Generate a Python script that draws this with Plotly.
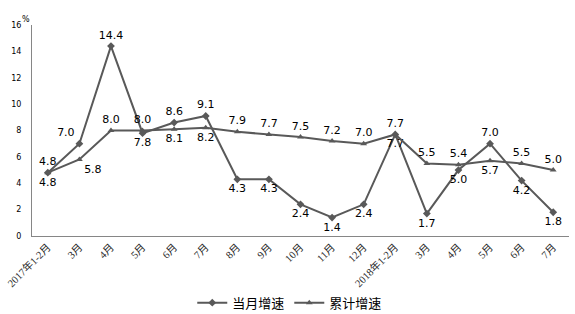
import plotly.graph_objects as go

# Month labels along the x axis
months = ["2017年1-2月", "3月", "4月", "5月", "6月", "7月", "8月", "9月", "10月",
          "11月", "12月", "2018年1-2月", "3月", "4月", "5月", "6月", "7月"]

# Growth rates (%)
monthly = [4.8, 7.0, 14.4, 7.8, 8.6, 9.1, 4.3, 4.3, 2.4, 1.4, 2.4, 7.7, 1.7, 5.0, 7.0, 4.2, 1.8]
cumulative = [4.8, 5.8, 8.0, 8.0, 8.1, 8.2, 7.9, 7.7, 7.5, 7.2, 7.0, 7.7, 5.5, 5.4, 5.7, 5.5, 5.0]

monthly_pos = ["top center", "top left", "top center", "bottom center", "top center", "top center",
               "bottom center", "bottom center", "bottom center", "bottom center", "bottom center",
               "bottom center", "bottom center", "bottom center", "top center", "bottom center",
               "bottom center"]
cumulative_pos = ["bottom center", "bottom right", "top center", "top center", "bottom center",
                  "bottom center", "top center", "top center", "top center", "top center",
                  "top center", "top center", "top center", "top center", "bottom center",
                  "top center", "top center"]

x = list(range(len(months)))
line_color = "#595959"
label_font = dict(family="DejaVu Sans", size=11, color="#000000")

fig = go.Figure()
fig.add_trace(go.Scatter(
    x=x, y=monthly, name="当月增速", mode="lines+markers+text",
    line=dict(color=line_color, width=2),
    marker=dict(symbol="diamond", size=6, color=line_color),
    text=[f"{v:.1f}" for v in monthly], textposition=monthly_pos,
    textfont=label_font, cliponaxis=False,
))
fig.add_trace(go.Scatter(
    x=x, y=cumulative, name="累计增速", mode="lines+markers+text",
    line=dict(color=line_color, width=2),
    marker=dict(symbol="triangle-up", size=6, color=line_color),
    text=[f"{v:.1f}" for v in cumulative], textposition=cumulative_pos,
    textfont=label_font, cliponaxis=False,
))

fig.update_layout(
    width=575, height=314,
    margin=dict(l=32, r=6, t=25, b=78, autoexpand=False),
    paper_bgcolor="white", plot_bgcolor="white",
    font=dict(family="DejaVu Sans, Noto Sans CJK SC", color="#000000"),
    xaxis=dict(
        range=[-0.5, len(months) - 0.5], automargin=False,
        tickmode="array", tickvals=x, ticktext=months, tickangle=-45,
        tickfont=dict(family="Liberation Serif, Noto Sans CJK SC", size=10.5, color="#262626"),
        showgrid=False, zeroline=False, showline=True, linecolor="#868686", linewidth=1,
        ticks="",
    ),
    yaxis=dict(
        range=[0, 16], tickmode="array", tickvals=list(range(0, 17, 2)), automargin=False,
        tickfont=dict(family="DejaVu Sans", size=8, color="#000000"),
        showgrid=False, zeroline=False, showline=True, linecolor="#868686", linewidth=1,
        ticks="", ticklabelstandoff=8,
    ),
    legend=dict(
        orientation="h", x=0.48, xanchor="center", y=-0.245, yanchor="top",
        font=dict(family="Noto Sans CJK SC", size=13, color="#000000"),
        itemwidth=30, tracegroupgap=0,
    ),
    showlegend=True,
    annotations=[dict(
        text="%", xref="paper", yref="paper", x=-0.022, y=1.057,
        showarrow=False, font=dict(family="DejaVu Sans", size=8, color="#000000"),
    )],
)

fig.write_html("out.html")
